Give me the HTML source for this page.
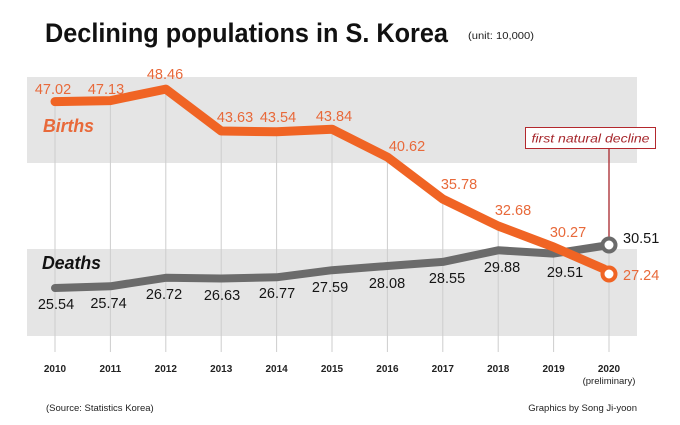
<!DOCTYPE html>
<html>
<head>
<meta charset="utf-8">
<style>
  html,body{margin:0;padding:0;background:#fff;}
  body{width:680px;height:425px;overflow:hidden;}
  svg{display:block;}
  text{font-family:"Liberation Sans",sans-serif;}
  .bv{fill:#e8693a;font-size:14.5px;text-anchor:middle;}
  .dv{fill:#151515;font-size:14.5px;text-anchor:middle;}
  .yr{fill:#222;font-size:10px;text-anchor:middle;font-weight:bold;}
</style>
</head>
<body>
<svg width="680" height="425" viewBox="0 0 680 425" xmlns="http://www.w3.org/2000/svg">
  <!-- Title -->
  <text x="45" y="42" font-size="27" font-weight="bold" fill="#111" textLength="403" lengthAdjust="spacingAndGlyphs">Declining populations in S. Korea</text>
  <text x="468" y="39" font-size="10" fill="#222" textLength="66" lengthAdjust="spacingAndGlyphs">(unit: 10,000)</text>

  <!-- Bands -->
  <rect x="27" y="77" width="610" height="86" fill="#e5e5e5"/>
  <rect x="27" y="249" width="610" height="87" fill="#e5e5e5"/>

  <!-- Grid lines -->
  <g stroke="#cdcdcd" stroke-width="1">
    <line x1="55" y1="101.6" x2="55" y2="352"/>
    <line x1="110.4" y1="100.6" x2="110.4" y2="352"/>
    <line x1="165.8" y1="89.1" x2="165.8" y2="352"/>
    <line x1="221.2" y1="131" x2="221.2" y2="352"/>
    <line x1="276.6" y1="131.8" x2="276.6" y2="352"/>
    <line x1="332" y1="129.2" x2="332" y2="352"/>
    <line x1="387.4" y1="157.1" x2="387.4" y2="352"/>
    <line x1="442.8" y1="199.1" x2="442.8" y2="352"/>
    <line x1="498.2" y1="226" x2="498.2" y2="352"/>
    <line x1="553.6" y1="247" x2="553.6" y2="352"/>
    <line x1="609" y1="250" x2="609" y2="352"/>
  </g>

  <!-- Annotation -->
  <line x1="609" y1="149" x2="609" y2="239" stroke="#a8272c" stroke-width="1.3"/>
  <rect x="525.5" y="127.5" width="130" height="21" fill="#fff" stroke="#b3282d" stroke-width="1"/>
  <text x="590.5" y="142.5" font-size="11.5" font-style="italic" fill="#a6262b" text-anchor="middle" textLength="118" lengthAdjust="spacingAndGlyphs">first natural decline</text>

  <!-- Deaths line -->
  <polyline fill="none" stroke="#6b6b6b" stroke-width="8" stroke-linejoin="round" stroke-linecap="round"
    points="55,288 110.4,286.3 165.8,277.8 221.2,278.5 276.6,277.3 332,270.2 387.4,266 442.8,261.9 498.2,250.3 553.6,253.6 603,246"/>
  <!-- Births line -->
  <polyline fill="none" stroke="#f06424" stroke-width="9" stroke-linejoin="round" stroke-linecap="round"
    points="55,101.6 110.4,100.6 165.8,89.1 221.2,131 276.6,131.8 332,129.2 387.4,157.1 442.8,199.1 498.2,226 553.6,247 604,269"/>

  <!-- End circles -->
  <circle cx="609" cy="245" r="6.5" fill="#fff" stroke="#6b6b6b" stroke-width="4"/>
  <circle cx="609" cy="274" r="6.5" fill="#fff" stroke="#f06424" stroke-width="4"/>

  <!-- Series labels -->
  <text x="43" y="132" font-size="18" font-weight="bold" font-style="italic" fill="#e8693a" textLength="51" lengthAdjust="spacingAndGlyphs">Births</text>
  <text x="42" y="269" font-size="18" font-weight="bold" font-style="italic" fill="#111" textLength="59" lengthAdjust="spacingAndGlyphs">Deaths</text>

  <!-- Births values -->
  <text class="bv" x="53" y="94">47.02</text>
  <text class="bv" x="106" y="94">47.13</text>
  <text class="bv" x="165" y="79">48.46</text>
  <text class="bv" x="235" y="122">43.63</text>
  <text class="bv" x="278" y="122">43.54</text>
  <text class="bv" x="334" y="121">43.84</text>
  <text class="bv" x="407" y="151">40.62</text>
  <text class="bv" x="459" y="189">35.78</text>
  <text class="bv" x="513" y="215">32.68</text>
  <text class="bv" x="568" y="237">30.27</text>
  <text class="bv" x="623" y="280" text-anchor="start" style="text-anchor:start">27.24</text>

  <!-- Deaths values -->
  <text class="dv" x="56" y="309">25.54</text>
  <text class="dv" x="108.5" y="308">25.74</text>
  <text class="dv" x="164" y="299">26.72</text>
  <text class="dv" x="222" y="300">26.63</text>
  <text class="dv" x="277" y="298">26.77</text>
  <text class="dv" x="330" y="292">27.59</text>
  <text class="dv" x="387" y="288">28.08</text>
  <text class="dv" x="447" y="283">28.55</text>
  <text class="dv" x="502" y="272">29.88</text>
  <text class="dv" x="565" y="277">29.51</text>
  <text class="dv" x="623" y="243" style="text-anchor:start">30.51</text>

  <!-- Year labels -->
  <text class="yr" x="55" y="372">2010</text>
  <text class="yr" x="110.4" y="372">2011</text>
  <text class="yr" x="165.8" y="372">2012</text>
  <text class="yr" x="221.2" y="372">2013</text>
  <text class="yr" x="276.6" y="372">2014</text>
  <text class="yr" x="332" y="372">2015</text>
  <text class="yr" x="387.4" y="372">2016</text>
  <text class="yr" x="442.8" y="372">2017</text>
  <text class="yr" x="498.2" y="372">2018</text>
  <text class="yr" x="553.6" y="372">2019</text>
  <text class="yr" x="609" y="372">2020</text>
  <text x="609" y="384" font-size="9.5" fill="#222" text-anchor="middle">(preliminary)</text>

  <!-- Footer -->
  <text x="46" y="411" font-size="9.5" fill="#222">(Source: Statistics Korea)</text>
  <text x="637" y="411" font-size="9.5" fill="#222" text-anchor="end">Graphics by Song Ji-yoon</text>
</svg>
</body>
</html>
